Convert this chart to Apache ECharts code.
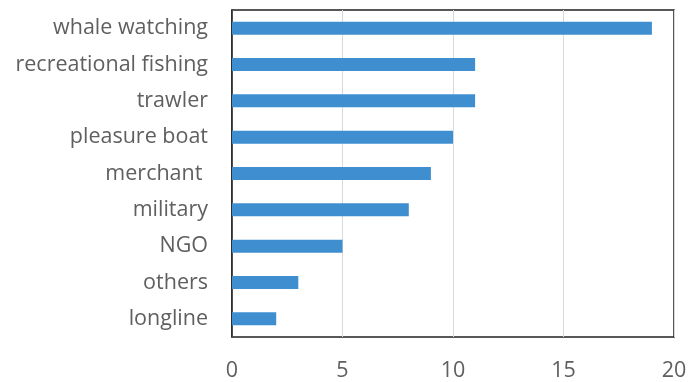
<!DOCTYPE html>
<html>
<head>
<meta charset="utf-8">
<script src="https://cdn.jsdelivr.net/npm/echarts@6/dist/echarts.min.js"></script>
<style>
  html, body { margin: 0; padding: 0; background: #fff; }
  #chart { width: 698px; height: 382px; }
</style>
</head>
<body>
<div id="chart"></div>
<script>
// Vessel types, top to bottom
const categories = [
  'whale watching', 'recreational fishing', 'trawler', 'pleasure boat',
  'merchant ', 'military', 'NGO', 'others', 'longline'
];
// Count per vessel type
const counts = [19, 11, 11, 10, 9, 8, 5, 3, 2];
// Value axis ticks
const xMin = 0, xMax = 20, xStep = 5;

const chart = echarts.init(document.getElementById('chart'));
chart.setOption({
  animation: false,
  grid: {
    left: 232, right: 24, top: 10, bottom: 45,
    show: true, borderColor: '#222', borderWidth: 1.5, backgroundColor: 'transparent'
  },
  xAxis: {
    type: 'value', min: xMin, max: xMax, interval: xStep,
    axisLine: { show: false }, axisTick: { show: false },
    splitLine: { show: true, lineStyle: { color: '#d9d9d9', width: 1 } },
    axisLabel: { color: '#5f5f5f', fontSize: 21.5, fontFamily: 'Open Sans', margin: 23 }
  },
  yAxis: {
    type: 'category', data: categories, inverse: true,
    axisLine: { show: true, lineStyle: { color: '#222', width: 1.5 } },
    axisTick: { show: false },
    axisLabel: { color: '#5f5f5f', fontSize: 21.5, fontFamily: 'Open Sans', margin: 24 }
  },
  series: [{
    type: 'bar', data: counts, barWidth: 13,
    itemStyle: { color: '#3f8fd0' }
  }]
});
</script>
</body>
</html>
